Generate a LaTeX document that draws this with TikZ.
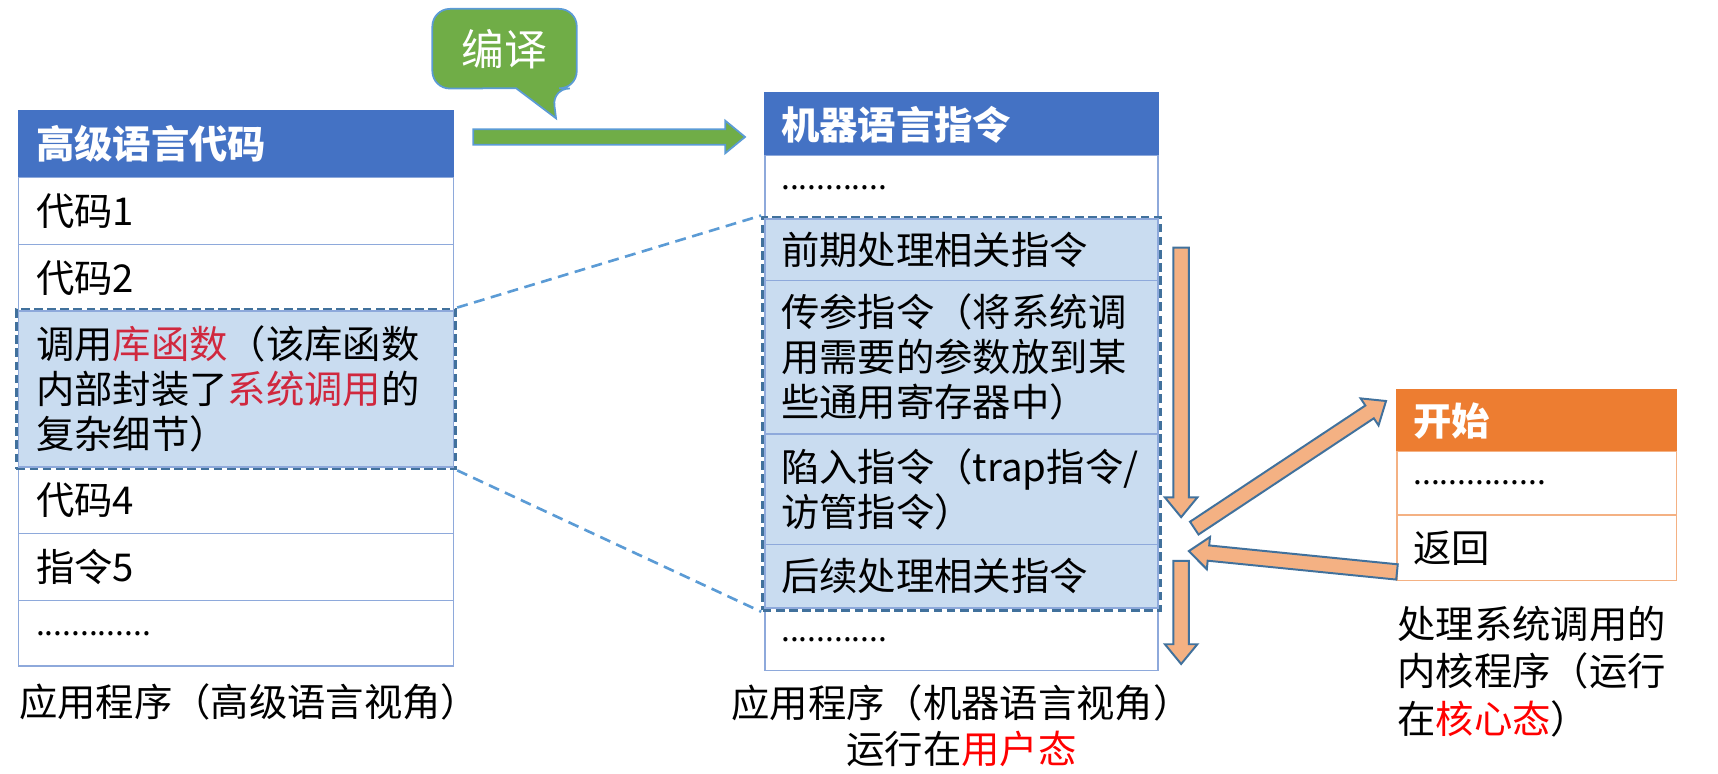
\documentclass[tikz,border=0pt]{standalone}
\usepackage{fontspec}
\setmainfont{Noto Sans CJK SC}
\usepackage{tikz}
\usetikzlibrary{positioning,fit,calc,backgrounds}
\definecolor{hdrblue}{HTML}{4472C4}
\definecolor{cellline}{HTML}{8EA9DB}
\definecolor{hlfill}{HTML}{C9DCF0}
\definecolor{hlframe}{HTML}{41719C}
\definecolor{linkblue}{HTML}{5B9BD5}
\definecolor{cmpgreen}{HTML}{70AD47}
\definecolor{kerorange}{HTML}{ED7D31}
\definecolor{kerline}{HTML}{F4B183}
\definecolor{libred}{HTML}{D0283E}
\definecolor{modered}{HTML}{FF0000}

% block arrow between two points
\newcommand\shaftw{3.5pt}
\newcommand\headw{7.4pt}
\newcommand\headlen{9pt}
\newcommand\fatarrow[3][]{%
  \draw[#1] let \p2=($(#3)!\headlen!(#2)$) in
    ($(#2)!\shaftw!90:(#3)$) -- ($(\p2)!\shaftw!90:(#3)$) -- ($(\p2)!\headw!90:(#3)$)
    -- (#3) -- ($(\p2)!\headw!-90:(#3)$) -- ($(\p2)!\shaftw!-90:(#3)$)
    -- ($(#2)!\shaftw!-90:(#3)$) -- cycle;}
\newcommand\dotrow[1]{{\fontsize{14.5}{17}\selectfont #1}}

\begin{document}
\begin{tikzpicture}[x=0.5pt, y=-0.5pt,
  node distance=0pt,
  txt/.style={font=\fontsize{17.5}{20.5}\selectfont},
  cell/.style={txt, draw=cellline, line width=0.7pt, outer sep=0pt, align=left, inner ysep=0pt, minimum height=30.5pt},
  lcell/.style={cell, text width=182.5pt, inner xsep=8pt},
  mcell/.style={cell, text width=164.5pt, inner xsep=7.5pt},
  rcell/.style={cell, draw=kerline, text width=112.5pt, inner xsep=7.5pt},
  hdr/.style={fill=hdrblue, draw=hdrblue, text=white, font=\fontsize{17.5}{20.5}\selectfont\bfseries},
  khdr/.style={fill=kerorange, draw=kerorange, text=white, font=\fontsize{17.5}{20.5}\selectfont\bfseries},
  hl/.style={fill=hlfill},
  hlbox/.style={draw=hlframe, dash pattern=on 4pt off 2pt, line width=1.3pt, inner sep=1pt},
  link/.style={draw=linkblue, dash pattern=on 5pt off 3pt, line width=1.2pt},
  bubble/.style={fill=cmpgreen, draw=linkblue, line width=0.8pt},
  flow/.style={fill=kerline, draw=hlframe, line width=0.9pt, line join=miter}
]
\useasboundingbox (0,0) rectangle (1568,706);

% high level view
\node[lcell, hdr, anchor=north west] (lh) at (17,101) {高级语言代码};
\node[lcell, below=of lh] (l1) {代码1};
\node[lcell, below=of l1] (l2) {代码2};
\node[lcell, hl, minimum height=71pt, below=of l2] (l3) {调用\textcolor{libred}{库函数}（该库函数\\内部封装了\textcolor{libred}{系统调用}的\\复杂细节）};
\node[lcell, below=of l3] (l4) {代码4};
\node[lcell, below=of l4] (l5) {指令5};
\node[lcell, minimum height=30pt, below=of l5] (l6) {\dotrow{.............}};
\node[hlbox, fit=(l3)] (lgrp) {};
\node[txt, anchor=west, inner sep=0pt] (lcap) at ([yshift=-16.5pt]l6.south west) {应用程序（高级语言视角）};

% machine view
\node[mcell, hdr, minimum height=28.5pt, anchor=north west] (mh) at (698,85) {机器语言指令};
\node[mcell, minimum height=29pt, below=of mh] (m1) {\dotrow{............}};
\node[mcell, hl, minimum height=28pt, below=of m1] (m2) {前期处理相关指令};
\node[mcell, hl, minimum height=70pt, below=of m2] (m3) {传参指令（将系统调\\用需要的参数放到某\\些通用寄存器中）};
\node[mcell, hl, minimum height=50.5pt, below=of m3] (m4) {陷入指令（trap指令/\\访管指令）};
\node[mcell, hl, minimum height=29pt, below=of m4] (m5) {后续处理相关指令};
\node[mcell, minimum height=28.5pt, below=of m5] (m6) {\dotrow{............}};
\node[hlbox, fit=(m2)(m5)] (mgrp) {};
\node[txt, align=center, inner sep=0pt, font=\fontsize{17.5}{21}\selectfont] (mcap) at ([yshift=-25pt]m6.south) {应用程序（机器语言视角）\\运行在\textcolor{modered}{用户态}};

% kernel routine
\node[rcell, khdr, minimum height=28pt, anchor=north west] (rh) at (1275,356) {开始};
\node[rcell, minimum height=29pt, below=of rh] (r1) {\dotrow{...............}};
\node[rcell, minimum height=30pt, below=of r1] (r2) {返回};
\node[txt, anchor=west, align=left, inner sep=0pt, font=\fontsize{17.5}{21.5}\selectfont] (rcap) at ([yshift=-41.5pt]r2.south west) {处理系统调用的\\内核程序（运行\\在\textcolor{modered}{核心态}）};

\draw[link] (lgrp.north east) -- (mgrp.north west);
\draw[link] (lgrp.south east) -- (mgrp.south west);

% compile
\node[txt, text=white, font=\fontsize{19.5}{22}\selectfont, minimum width=65.5pt, minimum height=36pt, inner sep=0pt] (cmp) at (460.5,44.5) {编译};
\coordinate (tip) at (507.5,108);
\begin{scope}[on background layer]
\draw[bubble] (tip) -- (471,80.5) [rounded corners=8pt] -- (cmp.south west) -- (cmp.north west)
  -- (cmp.north east) -- (cmp.south east) -- (504,80.5) [sharp corners] -- cycle;
\end{scope}
\coordinate (cs) at (432,125);
\coordinate (ce) at (680,125);
\fatarrow[bubble]{cs}{ce}

% control flow
\coordinate (d1s) at (1078,226);
\coordinate (d1e) at (1078,472);
\coordinate (d2s) at (1078,512);
\coordinate (d2e) at (1078,606);
\coordinate (ups) at (1090,482);
\coordinate (upe) at (1265,366);
\coordinate (rets) at (1275,522);
\coordinate (rete) at (1085,503);
\fatarrow[flow]{d1s}{d1e}
\fatarrow[flow]{d2s}{d2e}
\fatarrow[flow]{ups}{upe}
\fatarrow[flow]{rets}{rete}
\end{tikzpicture}
\end{document}
